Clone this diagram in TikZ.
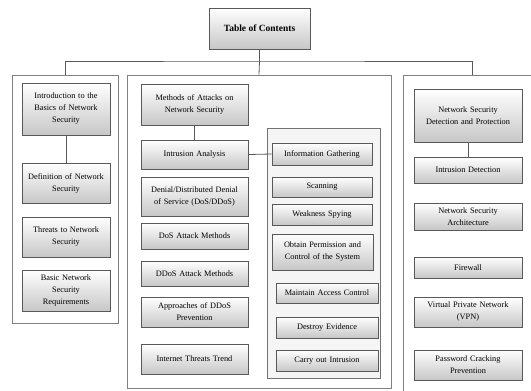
\documentclass[tikz,border=0pt]{standalone}
\usepackage{fontspec}
\setmainfont{Liberation Serif}
\usetikzlibrary{shadows}

\tikzset{
	tema/.style={draw=black!65, line width=0.7pt, top color=white, bottom color=black!22,
		drop shadow={shadow xshift=0.9pt, shadow yshift=-0.9pt, opacity=0.3},
		align=center, inner sep=1pt, font=\fontsize{8.3}{12}\selectfont},
	marco/.style={draw=black!50, line width=1pt, inner sep=0pt},
	enlace/.style={draw=black!65, line width=0.8pt}
}

\begin{document}
\begin{tikzpicture}[x=1pt, y=-1pt]
	\useasboundingbox (0,0) rectangle (531,391);
	% Marcos
		\node[marco, minimum width=106pt, minimum height=248pt] (frameL) at (65,199) {};
		\node[marco, minimum width=264pt, minimum height=313pt] (frameM) at (259,231.5) {};
		\node[marco, minimum width=138pt, minimum height=320pt] (frameR) at (472,235) {};
		\node[marco, draw=black!55, fill=black!4, minimum width=113pt, minimum height=250pt] (frameIn) at (323.5,253) {};

	% Titulo
		\node[tema, minimum width=101pt, minimum height=41pt, font=\fontsize{9.5}{12}\selectfont\bfseries] (toc) at (259.5,28.5) {Table of Contents};

	% Columna izquierda
		\node[tema, text width=86pt, minimum height=52pt] (intro) at (66,109) {Introduction to the\\Basics of Network\\Security};
		\node[tema, text width=86pt, minimum height=40pt] (defn) at (66,183) {Definition of Network\\Security};
		\node[tema, text width=86pt, minimum height=40pt] (threats) at (66,237) {Threats to Network\\Security};
		\node[tema, text width=86pt, minimum height=41pt] (basic) at (66,290.5) {Basic Network\\Security\\Requirements};

	% Columna central
		\node[tema, text width=105pt, minimum height=41pt] (methods) at (194.5,104.5) {Methods of Attacks on\\Network Security};
		\node[tema, text width=105pt, minimum height=29pt] (ia) at (194.5,154.5) {Intrusion Analysis};
		\node[tema, text width=105pt, minimum height=39pt] (denial) at (194.5,196.5) {Denial/Distributed Denial\\of Service (DoS/DDoS)};
		\node[tema, text width=105pt, minimum height=26pt] (dosam) at (194.5,236) {DoS Attack Methods};
		\node[tema, text width=105pt, minimum height=25pt] (ddosam) at (194.5,273.5) {DDoS Attack Methods};
		\node[tema, text width=105pt, minimum height=30pt] (prevent) at (194.5,312) {Approaches of DDoS\\Prevention};
		\node[tema, text width=105pt, minimum height=30pt] (trend) at (194.5,359) {Internet Threats Trend};

	% Pasos de la intrusion
		\node[tema, text width=98pt, minimum height=22pt] (info) at (322,154) {Information Gathering};
		\node[tema, text width=98pt, minimum height=20pt] (scan) at (322,187) {Scanning};
		\node[tema, text width=98pt, minimum height=21pt] (spy) at (322,214.5) {Weakness Spying};
		\node[tema, text width=99pt, minimum height=36pt] (obtain) at (322.5,252) {Obtain Permission and\\Control of the System};
		\node[tema, text width=100pt, minimum height=20pt] (keep) at (327,293) {Maintain Access Control};
		\node[tema, text width=100pt, minimum height=21pt] (destroy) at (327,327.5) {Destroy Evidence};
		\node[tema, text width=100pt, minimum height=21pt] (carry) at (327,360.5) {Carry out Intrusion};

	% Columna derecha
		\node[tema, text width=106pt, minimum height=53pt] (nsdp) at (468,115.5) {Network Security\\Detection and Protection};
		\node[tema, text width=106pt, minimum height=26pt] (idet) at (468,170) {Intrusion Detection};
		\node[tema, text width=106pt, minimum height=27pt] (arch) at (468,216.5) {Network Security\\Architecture};
		\node[tema, text width=106pt, minimum height=21pt] (fw) at (468,267.5) {Firewall};
		\node[tema, text width=106pt, minimum height=30pt] (vpn) at (468,312) {Virtual Private Network\\(VPN)};
		\node[tema, text width=106pt, minimum height=30pt] (pwd) at (468,365) {Password Cracking\\Prevention};

	% Enlaces
		\coordinate (bus) at (259.5,61);
		\draw[enlace] (toc.south) -- (bus);
		\draw[enlace] (frameL.north) |- (bus) -| (frameR.north);
		\draw[enlace] (bus) -- (frameM.north);
		\draw[enlace] (intro.south) -- (defn.north);
		\draw[enlace] (methods.south) -- (ia.north);
		\draw[enlace] (ia.east) -- (info.west);
		\draw[enlace] (nsdp.south) -- (idet.north);
\end{tikzpicture}
\end{document}
